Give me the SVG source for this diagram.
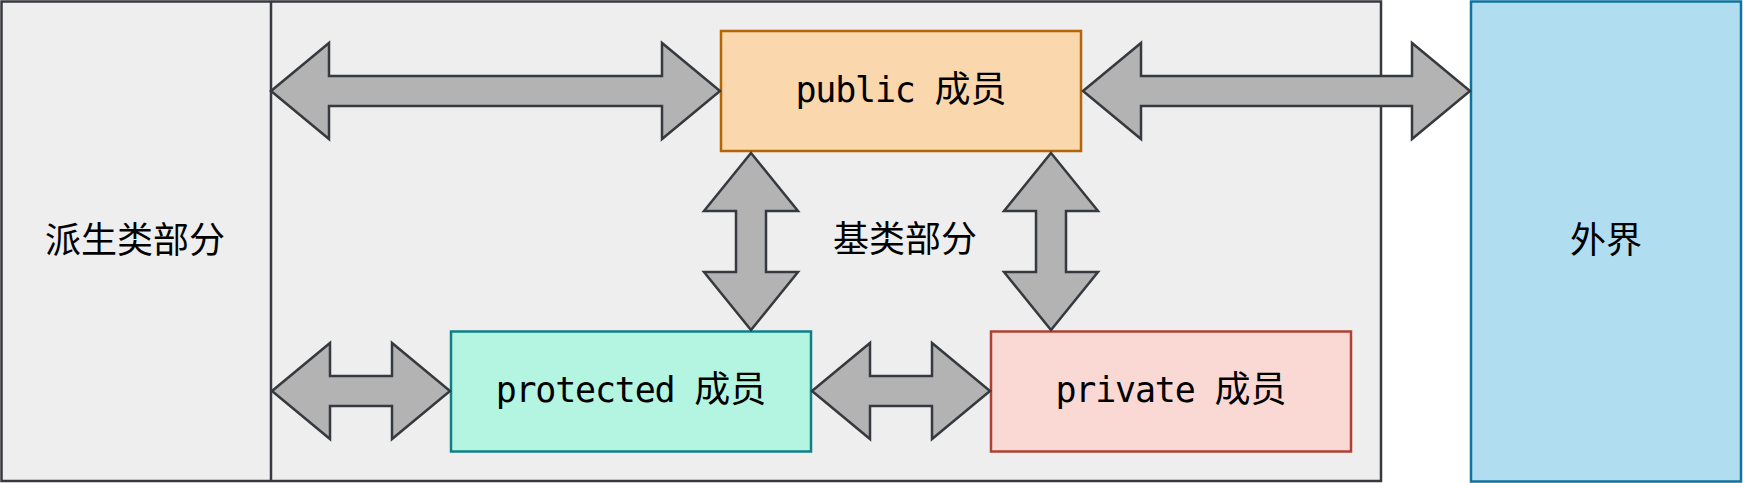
<svg xmlns="http://www.w3.org/2000/svg" width="1743" height="483" viewBox="0 0 1743 483">
<style>
.frame{fill:#eeeeee;stroke:#36393d;stroke-width:2.5}
.arrow{fill:#b3b3b3;stroke:#36393d;stroke-width:2.5;stroke-linejoin:miter}
.cjk{font-family:"Noto Sans CJK SC","Noto Sans",sans-serif;font-size:36px;fill:#000}
.mono{font-family:"DejaVu Sans Mono","Liberation Mono",monospace;font-size:35px;letter-spacing:-1.2px;fill:#000}
.lbl{text-anchor:middle}
.box{stroke-width:2.5}
</style>
<rect width="1743" height="483" fill="#ffffff"/>
<g id="base-frame">
<rect class="frame" x="1.5" y="1.5" width="1379.5" height="479.5"/>
<line x1="271" y1="1.5" x2="271" y2="481" stroke="#36393d" stroke-width="2.5"/>
<text class="cjk lbl" x="135" y="253">派生类部分</text>
<text class="cjk lbl" x="905" y="252">基类部分</text>
</g>
<g id="outside">
<rect class="box" x="1471" y="1.5" width="270" height="480" fill="#b1ddf0" stroke="#10739e"/>
<text class="cjk lbl" x="1606" y="253">外界</text>
</g>
<g id="public">
<rect class="box" x="721" y="31" width="360" height="120" fill="#fad7ac" stroke="#b46504"/>
<text class="lbl" x="901" y="102"><tspan class="mono">public </tspan><tspan class="cjk">成员</tspan></text>
</g>
<g id="protected">
<rect class="box" x="451" y="331.5" width="360" height="120" fill="#b3f5e0" stroke="#0e8088"/>
<text class="lbl" x="631" y="402"><tspan class="mono">protected </tspan><tspan class="cjk">成员</tspan></text>
</g>
<g id="private">
<rect class="box" x="991" y="331.5" width="360" height="120" fill="#fad9d5" stroke="#ae4132"/>
<text class="lbl" x="1171" y="402"><tspan class="mono">private </tspan><tspan class="cjk">成员</tspan></text>
</g>
<g id="connectors">
<polygon class="arrow" points="271,91 329,43 329,76 662,76 662,43 720,91 662,139 662,106 329,106 329,139"/>
<polygon class="arrow" points="1083,91 1141,43 1141,76 1412,76 1412,43 1470,91 1412,139 1412,106 1141,106 1141,139"/>
<polygon class="arrow" points="272,391 330,343 330,376 392,376 392,343 450,391 392,439 392,406 330,406 330,439"/>
<polygon class="arrow" points="812,391 870,343 870,376 932,376 932,343 990,391 932,439 932,406 870,406 870,439"/>
<polygon class="arrow" points="751,153 798,211 766,211 766,272 798,272 751,330 704,272 736,272 736,211 704,211"/>
<polygon class="arrow" points="1051,153 1098,211 1066,211 1066,272 1098,272 1051,330 1004,272 1036,272 1036,211 1004,211"/>
</g>
</svg>
